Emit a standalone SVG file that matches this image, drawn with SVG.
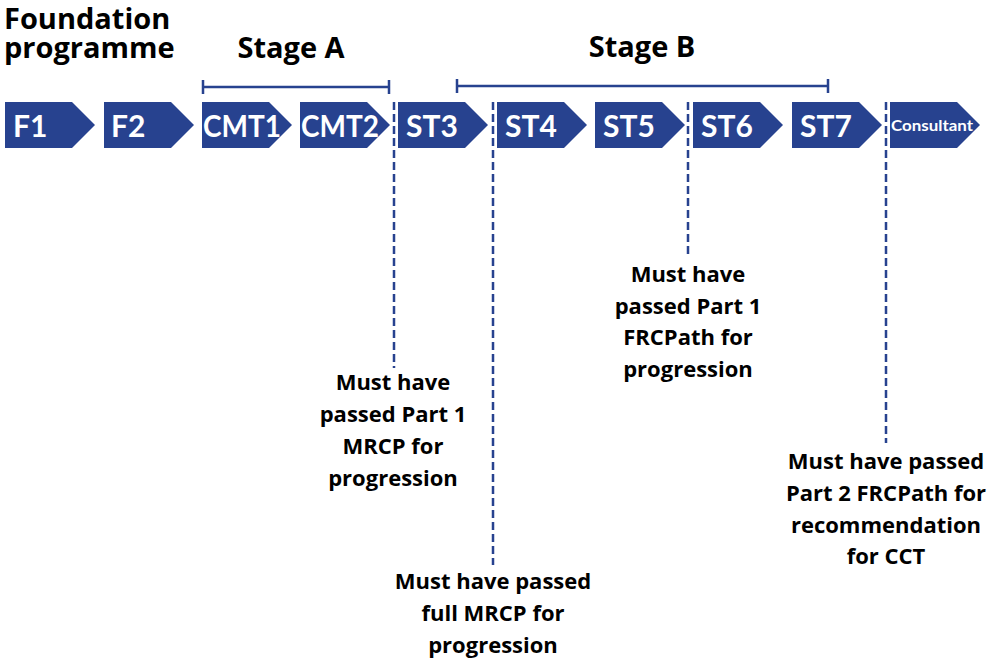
<svg xmlns="http://www.w3.org/2000/svg" width="1001" height="661" viewBox="0 0 1001 661">
<defs>
<style>
.chev{fill:#27428f}
.cl{fill:#fff;font-family:Lato,"Liberation Sans",sans-serif;font-weight:700;font-size:30px}
.hd{fill:#000;font-family:"Open Sans","Liberation Sans",sans-serif;font-weight:700;font-size:29px}
.nt{fill:#000;font-family:"Open Sans","Liberation Sans",sans-serif;font-weight:700;font-size:22px;text-anchor:middle}
.br{stroke:#27428f;stroke-width:2.5;fill:none}
.dash{stroke:#27428f;stroke-width:2.5;stroke-dasharray:8 4;fill:none}
</style>
<path id="chevShape" d="M0,0 H67 L90,23 L67,46 H0 Z"/>
</defs>
<rect width="1001" height="661" fill="#fff"/>
<g id="headings">
<text class="hd" x="4" y="29"><tspan x="4" y="29">Foundation</tspan><tspan x="4" y="58">programme</tspan></text>
<text class="hd" x="291" y="58" text-anchor="middle">Stage A</text>
<text class="hd" x="642" y="57" text-anchor="middle">Stage B</text>
</g>
<g id="brackets">
<path class="br" d="M203,87 H389 M203,80 V94 M389,80 V94"/>
<path class="br" d="M457,86 H828 M457,79 V93 M828,79 V93"/>
</g>
<g id="F1"><use href="#chevShape" x="5" y="102" class="chev"/><text class="cl" x="13" y="137">F1</text></g>
<g id="F2"><use href="#chevShape" x="104" y="102" class="chev"/><text class="cl" x="111" y="137">F2</text></g>
<g id="CMT1"><use href="#chevShape" x="202" y="102" class="chev"/><text class="cl" x="203" y="137" textLength="78" lengthAdjust="spacingAndGlyphs">CMT1</text></g>
<g id="CMT2"><use href="#chevShape" x="300" y="102" class="chev"/><text class="cl" x="301" y="137" textLength="78" lengthAdjust="spacingAndGlyphs">CMT2</text></g>
<g id="ST3"><use href="#chevShape" x="398" y="102" class="chev"/><text class="cl" x="406" y="137">ST3</text></g>
<g id="ST4"><use href="#chevShape" x="497" y="102" class="chev"/><text class="cl" x="505" y="137">ST4</text></g>
<g id="ST5"><use href="#chevShape" x="595" y="102" class="chev"/><text class="cl" x="603" y="137">ST5</text></g>
<g id="ST6"><use href="#chevShape" x="693" y="102" class="chev"/><text class="cl" x="701" y="137">ST6</text></g>
<g id="ST7"><use href="#chevShape" x="792" y="102" class="chev"/><text class="cl" x="800" y="137">ST7</text></g>
<g id="Consultant"><use href="#chevShape" x="890" y="102" class="chev"/><text class="cl" x="891" y="131" style="font-size:15px" textLength="82" lengthAdjust="spacingAndGlyphs">Consultant</text></g>
<g id="connectors">
<line class="dash" x1="394" y1="102" x2="394" y2="368"/>
<line class="dash" x1="493" y1="102" x2="493" y2="565"/>
<line class="dash" x1="688" y1="102" x2="688" y2="258"/>
<line class="dash" x1="886" y1="102" x2="886" y2="443"/>
</g>
<g id="note1">
<text class="nt" x="393" y="390">Must have</text>
<text class="nt" x="393" y="422">passed Part 1</text>
<text class="nt" x="393" y="454">MRCP for</text>
<text class="nt" x="393" y="486">progression</text>
</g>
<g id="note2">
<text class="nt" x="493" y="589">Must have passed</text>
<text class="nt" x="493" y="621">full MRCP for</text>
<text class="nt" x="493" y="653">progression</text>
</g>
<g id="note3">
<text class="nt" x="688" y="282">Must have</text>
<text class="nt" x="688" y="314">passed Part 1</text>
<text class="nt" x="688" y="345">FRCPath for</text>
<text class="nt" x="688" y="377">progression</text>
</g>
<g id="note4">
<text class="nt" x="886" y="469">Must have passed</text>
<text class="nt" x="886" y="501">Part 2 FRCPath for</text>
<text class="nt" x="886" y="533">recommendation</text>
<text class="nt" x="886" y="564">for CCT</text>
</g>
</svg>
